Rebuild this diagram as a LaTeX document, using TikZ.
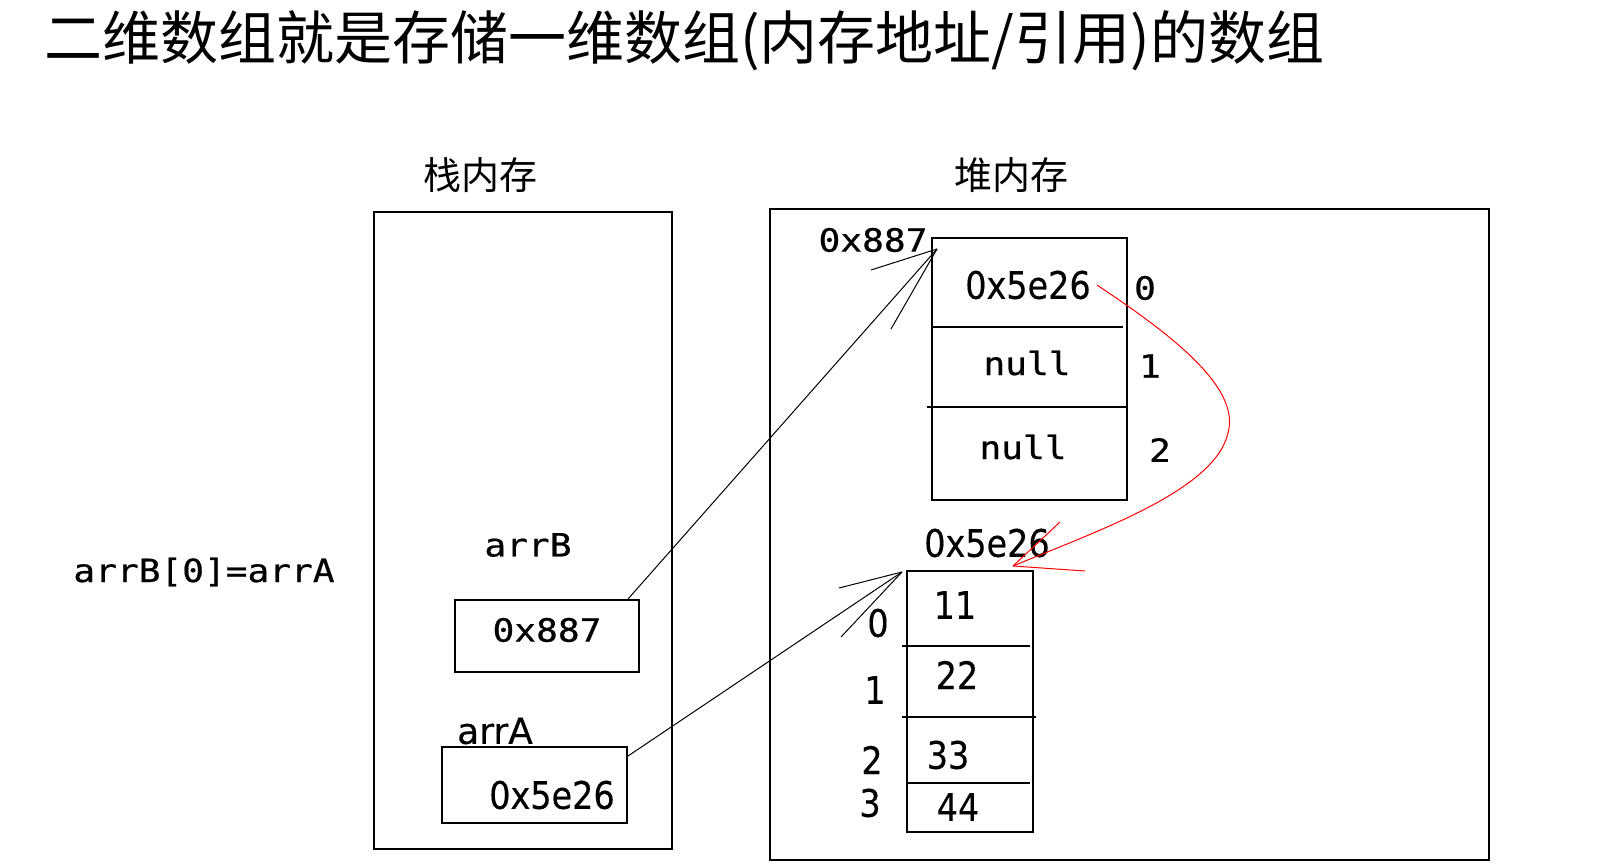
\documentclass[tikz,border=0pt]{standalone}
\usepackage{fontspec}
\newfontfamily\cjk{Noto Sans CJK SC}
\newfontfamily\monof[FakeStretch=1.13,FakeBold=0.6]{DejaVu Sans Mono}
\newfontfamily\sansf[FakeStretch=0.88,FakeBold=0.3]{DejaVu Sans}
\newfontfamily\sansw[FakeBold=0.3]{DejaVu Sans}
\tikzset{
  box/.style={draw, line width=2pt, inner sep=0pt},
  rule/.style={line width=2pt},
  mono/.style={font=\monof\fontsize{32}{34}\selectfont, inner sep=0pt},
  sans/.style={font=\sansf\fontsize{38}{40}\selectfont, inner sep=0pt},
  cjklab/.style={font=\cjk\fontsize{38}{40}\selectfont, inner sep=0pt},
  link/.style={line width=1pt},
  redlink/.style={line width=1pt, red},
}
\begin{document}
\begin{tikzpicture}[x=1pt,y=-1pt]
\useasboundingbox (0,0) rectangle (1618,864);
\fill[white] (0,0) rectangle (1618,864);
\node[anchor=west, font=\cjk\fontsize{58}{60}\selectfont, inner sep=0pt] (title) at (44,41) {二维数组就是存储一维数组(内存地址/引用)的数组};

% containers
\node[box, minimum width=298pt, minimum height=637pt] (stack) at (523,530.5) {};
\node[box, minimum width=719pt, minimum height=651pt] (heap) at (1129.5,534.5) {};
\node[cjklab] (stacklab) at (480,175) {栈内存};
\node[cjklab] (heaplab) at (1011,175) {堆内存};

% stack content
\node[mono] (bname) at (528,545) {arrB};
\node[box, minimum width=184pt, minimum height=72pt] (bbox) at (547,636) {};
\node[mono] (bval) at (547,630) {0x887};
\node[font=\sansw\fontsize{36}{38}\selectfont, inner sep=0pt] (aname) at (495,731) {arrA};
\node[box, minimum width=185pt, minimum height=76pt] (abox) at (534.5,785) {};
\node[sans] (aval) at (552,795) {0x5e26};

\node[mono] (assign) at (204,572) {arrB[0]=arrA};

% outer array (arrB)
\node[mono] (addr2) at (873,240) {0x887};
\node[box, minimum width=195pt, minimum height=262pt] (arr2) at (1029.5,369) {};
\draw[rule] (932,327) -- (1123,327);
\draw[rule] (927,407) -- (1127,407);
\node[sans] (t0) at (1028,285) {0x5e26};
\node[mono] (t1) at (1027,363) {null};
\node[mono] (t2) at (1023,447) {null};
\node[mono] (i20) at (1145,288) {0};
\node[mono] (i21) at (1150,366) {1};
\node[mono] (i22) at (1160,450) {2};

% inner array (arrA)
\node[sans] (addr1) at (987,543) {0x5e26};
\node[box, minimum width=126pt, minimum height=261pt] (arr1) at (970,701.5) {};
\draw[rule] (902,646) -- (1030,646);
\draw[rule] (902,717) -- (1036,717);
\draw[rule] (907,783) -- (1030,783);
\node[sans] (v0) at (955,605) {11};
\node[sans] (v1) at (957,675) {22};
\node[sans] (v2) at (948,755) {33};
\node[sans] (v3) at (958,807) {44};
\node[sans] (i10) at (878,623) {0};
\node[sans] (i11) at (875,690) {1};
\node[sans] (i12) at (872,760) {2};
\node[sans] (i13) at (870,803) {3};

% connectors
\coordinate (tipB) at ([xshift=6pt,yshift=-12pt]arr2.north west);
\draw[link] ([xshift=-12pt]bbox.north east) -- (tipB);
\draw[link] (tipB) -- ++(-66,21);
\draw[link] (tipB) -- ++(-46,80);

\coordinate (tipA) at ([xshift=-4pt,yshift=-2pt]arr1.north west);
\draw[link] ([yshift=-10pt]abox.north east) -- (tipA);
\draw[link] (tipA) -- ++(-63,16);
\draw[link] (tipA) -- ++(-61,65);

\coordinate (rtip) at ([xshift=43pt,yshift=4pt]arr1.north);
\draw[redlink] ([xshift=6pt]t0.east) .. controls (1180,340) and (1240,390) .. (1228,433) .. controls (1215,490) and (1100,530) .. (rtip);
\draw[redlink] (rtip) -- ++(47,-44);
\draw[redlink] (rtip) -- ++(72,5);
\end{tikzpicture}
\end{document}
